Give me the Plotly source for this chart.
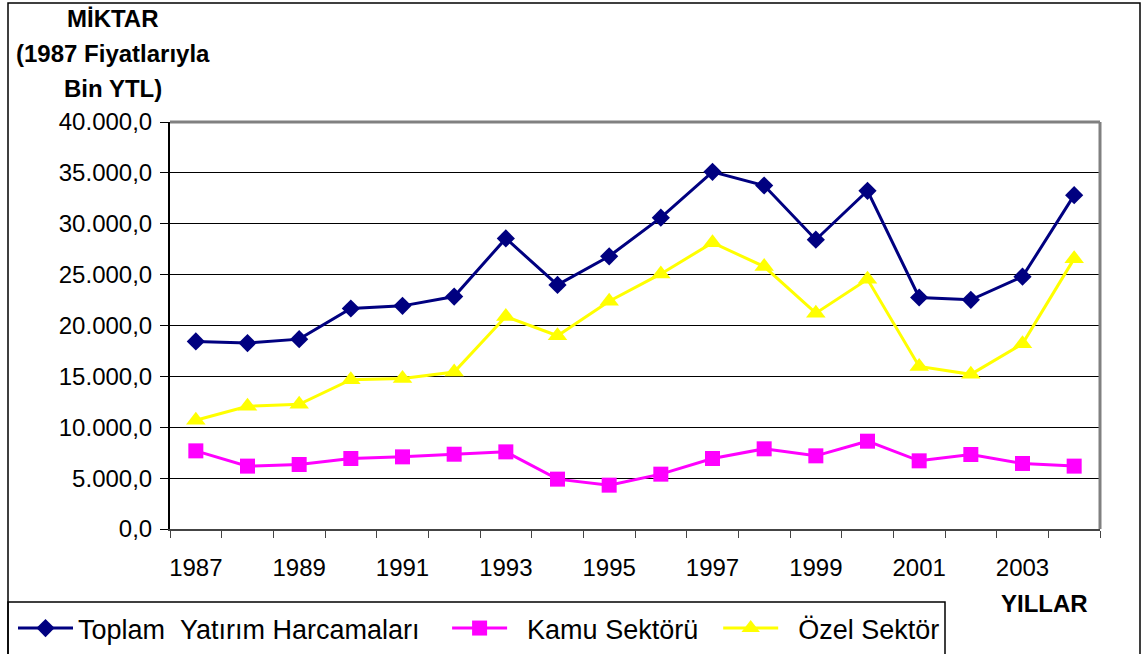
import plotly.graph_objects as go

years = list(range(1987, 2005))
toplam = [18430, 18270, 18660, 21670, 21930, 22840, 28560, 23990, 26800, 30600,
          35100, 33760, 28430, 33240, 22750, 22520, 24800, 32810]
kamu = [7680, 6180, 6340, 6930, 7090, 7350, 7580, 4900, 4310, 5390,
        6930, 7880, 7190, 8630, 6700, 7320, 6440, 6180]
ozel = [10690, 12060, 12260, 14680, 14800, 15430, 20880, 18990, 22390, 25070,
        28140, 25790, 21210, 24540, 15980, 15200, 18200, 26570]
xlabels = [str(y) for y in years[::2]]
NB = "\u00a0"
names = ["Toplam" + NB * 2 + "Yatırım Harcamaları" + NB * 3,
         NB * 2 + "Kamu Sektörü" + NB * 2,
         NB * 2 + "Özel Sektör"]

FONT = "Liberation Sans, Arial, sans-serif"
W, H = 1143, 654
L, R, T, B = 170, 43, 122, 125
PW, PH = W - L - R, H - T - B

def px_x(x):
    return (x - L) / PW

def px_y(y):
    return (H - B - y) / PH

fig = go.Figure()
fig.add_trace(go.Scatter(x=years, y=toplam, name=names[0], mode="lines+markers",
                         line=dict(color="#000080", width=3),
                         marker=dict(symbol="diamond", size=14, color="#000080")))
fig.add_trace(go.Scatter(x=years, y=kamu, name=names[1], mode="lines+markers",
                         line=dict(color="#FF00FF", width=3),
                         marker=dict(symbol="square", size=15, color="#FF00FF")))
fig.add_trace(go.Scatter(x=years, y=ozel, name=names[2], mode="lines+markers",
                         line=dict(color="#FFFF00", width=3),
                         marker=dict(symbol="triangle-up", size=17, color="#FFFF00")))

fig.update_layout(
    width=W, height=H,
    margin=dict(l=L, r=R, t=T, b=B, pad=0, autoexpand=False),
    paper_bgcolor="white", plot_bgcolor="white",
    separators=",.",
    font=dict(family=FONT, size=24, color="black"),
    showlegend=True,
    legend=dict(orientation="h", x=px_x(13), y=px_y(604), xanchor="left", yanchor="top",
                borderwidth=0, bgcolor="rgba(0,0,0,0)",
                font=dict(family=FONT, size=27, color="black"),
                itemwidth=55, tracegroupgap=0, itemsizing="trace"),
    xaxis=dict(range=[1986.5, 2004.5], tickmode="array",
               tickvals=years[::2], ticktext=xlabels,
               ticks="", showgrid=False, zeroline=False,
               showline=True, linecolor="#444444", linewidth=2,
               ticklabelstandoff=16,
               minor=dict(tickmode="array", tickvals=[y - 0.5 for y in years] + [years[-1] + 0.5],
                          ticks="outside", ticklen=7, tickcolor="#444444", tickwidth=1,
                          showgrid=False),
               tickfont=dict(size=24)),
    yaxis=dict(range=[0, 40000], dtick=5000, tickformat=",.1f",
               showgrid=True, gridcolor="black", gridwidth=1,
               zeroline=False, showline=True, linecolor="black", linewidth=2,
               ticks="outside", ticklen=8, tickcolor="black", tickwidth=1,
               ticklabelstandoff=3, tickfont=dict(size=24)),
)

# plot-area border (grey top and right) and outer chart frame
fig.add_shape(type="line", xref="paper", yref="paper", x0=0, x1=1, y0=1, y1=1,
              line=dict(color="#808080", width=3))
fig.add_shape(type="line", xref="paper", yref="paper", x0=1, x1=1, y0=0, y1=1,
              line=dict(color="#808080", width=3))
fig.add_shape(type="rect", xref="paper", yref="paper",
              x0=px_x(8), x1=px_x(1140), y0=px_y(665), y1=px_y(3),
              line=dict(color="black", width=1.5), fillcolor="rgba(0,0,0,0)", layer="below")
# legend frame
fig.add_shape(type="rect", xref="paper", yref="paper",
              x0=px_x(8), x1=px_x(945), y0=px_y(665), y1=px_y(602),
              line=dict(color="black", width=1.5), fillcolor="rgba(0,0,0,0)", layer="below")

title_lines = ["MİKTAR", "(1987 Fiyatlarıyla", "Bin YTL)"]
title_y = [19, 54, 88]
for txt, yy in zip(title_lines, title_y):
    fig.add_annotation(text=f"<b>{txt}</b>", xref="paper", yref="paper",
                       x=px_x(113), y=px_y(yy), xanchor="center", yanchor="middle",
                       showarrow=False, font=dict(family=FONT, size=24, color="black"))

fig.add_annotation(text="<b>YILLAR</b>", xref="paper", yref="paper",
                   x=px_x(1044), y=px_y(603), xanchor="center", yanchor="middle",
                   showarrow=False, font=dict(family=FONT, size=24, color="black"))

fig.write_html("out.html", config={"displayModeBar": False},
               post_script="document.body.style.margin='0';")
